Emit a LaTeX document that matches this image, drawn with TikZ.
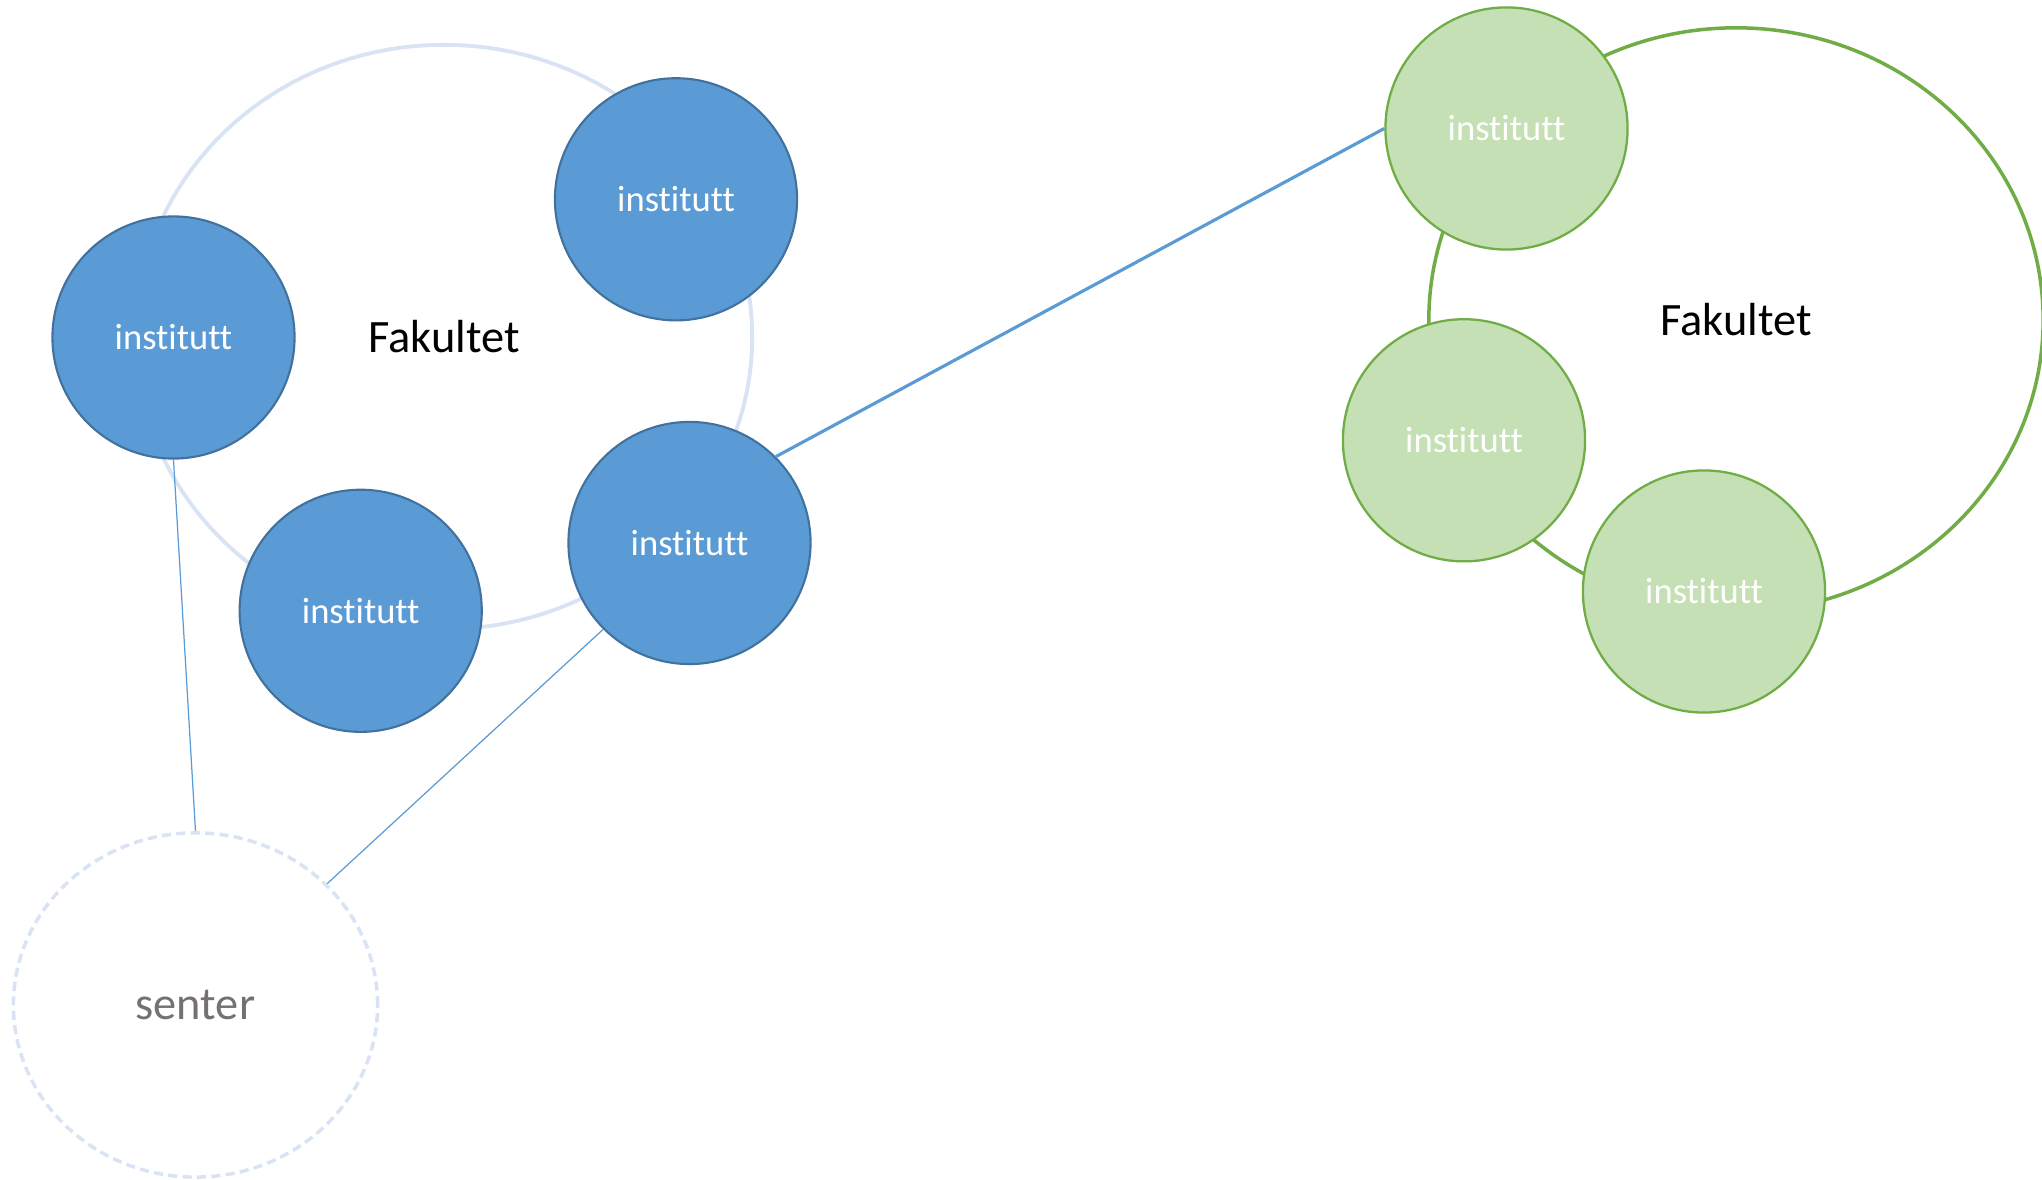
\documentclass[tikz,border=0pt]{standalone}
\usepackage{fontspec}
\setmainfont{Carlito}[Ligatures={NoCommon}]
\usetikzlibrary{shapes.geometric}
\definecolor{bluefill}{HTML}{5B9BD5}
\definecolor{blueline}{HTML}{41719C}
\definecolor{lightblue}{HTML}{DAE3F3}
\definecolor{greenfill}{HTML}{C5E0B4}
\definecolor{greenline}{HTML}{70AD47}
\definecolor{sentergrey}{HTML}{767171}
\begin{document}
\begin{tikzpicture}[x=0.01cm,y=-0.01cm,
  inst/.style={circle, minimum size=2.42cm, inner sep=0pt, font=\fontsize{10.4}{12}\selectfont, text=white},
  blueinst/.style={inst, fill=bluefill, draw=blueline, line width=0.6pt},
  greeninst/.style={inst, fill=greenfill, draw=greenline, line width=0.65pt},
  fak/.style={ellipse, inner sep=0pt, minimum width=6.16cm, minimum height=5.84cm, font=\fontsize{13.2}{15}\selectfont},
  senterbox/.style={ellipse, inner sep=0pt, minimum width=3.64cm, minimum height=3.44cm, draw=lightblue, line width=1pt, dash pattern=on 2.6pt off 1.5pt, text=sentergrey, font=\fontsize{13.2}{15}\selectfont},
  thinlink/.style={draw=bluefill, line width=0.35pt},
  mainlink/.style={draw=bluefill, line width=0.9pt}]
\useasboundingbox (0,0) rectangle (2042,1180);
% faculties
\node[fak, draw=lightblue, line width=1.1pt] (fakL) at (444,337) {Fakultet};
\node[fak, draw=greenline, line width=1pt, minimum width=6.14cm] (fakR) at (1736,320) {Fakultet};
% senter
\node[senterbox] (senter) at (195.5,1005) {senter};
% blue institutes
\node[blueinst] (b1) at (173.5,337.5) {institutt};
\node[blueinst] (b2) at (676,199.3) {institutt};
\node[blueinst] (b3) at (360.7,610.8) {institutt};
\node[blueinst] (b4) at (689.5,543) {institutt};
% green institutes
\node[greeninst] (g1) at (1506.5,128.5) {institutt};
\node[greeninst] (g2) at (1464,440.3) {institutt};
\node[greeninst] (g3) at (1704,591.5) {institutt};
% connectors
\draw[mainlink] (b4.45) -- (g1.west);
\draw[thinlink] (b1.south) -- (senter.north);
\draw[thinlink] (b4.225) -- (senter);
\end{tikzpicture}
\end{document}
